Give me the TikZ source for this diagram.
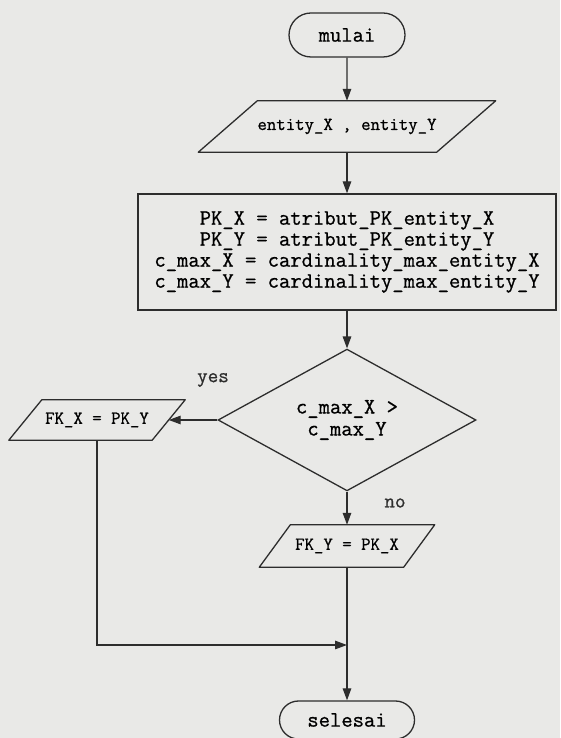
\documentclass[tikz,border=0pt]{standalone}
\usepackage{fontspec}
\setmonofont{Latin Modern Mono}[FakeBold=0.8]
\usepackage{xcolor}
\usetikzlibrary{arrows.meta, shapes.geometric, shapes.misc, positioning}

\definecolor{paper}{RGB}{233,233,231}
\definecolor{ink}{RGB}{45,45,45}

\tikzset{
  flow/.style={draw=ink, line width=1.3pt, -{Triangle[length=12pt,width=8.5pt]}},
  outline/.style={draw=ink, line width=1.3pt, line join=round},
  terminal/.style={rounded rectangle, draw=ink, line width=1.3pt, inner sep=0pt,
    font=\fontsize{22}{24}\selectfont\ttfamily},
  iobox/.style={rectangle, inner sep=0pt, font=\fontsize{18.3}{20}\selectfont\ttfamily},
  procbox/.style={rectangle, draw=ink, line width=1.3pt, inner sep=0pt, align=center,
    font=\fontsize{22}{21}\selectfont\ttfamily},
  decision/.style={diamond, draw=ink, line width=1.3pt, inner sep=0pt, align=center,
    font=\fontsize{22}{22}\selectfont\ttfamily},
  branch/.style={font=\fontsize{20.5}{22}\selectfont\ttfamily, text=ink}
}

\begin{document}
\begin{tikzpicture}[x=1pt, y=1pt]
        \fill[paper] (0,0) rectangle (560,738);
        \useasboundingbox (0,0) rectangle (560,738);
        \node[terminal, minimum width=116pt, minimum height=44pt] (start) at (347,703) {mulai};
        \node[iobox, minimum width=238pt, minimum height=51pt] (input) at (347,611.5) {entity\_X , entity\_Y};
        \node[procbox, minimum width=418pt, minimum height=116pt] (assign) at (347,486)
          {PK\_X = atribut\_PK\_entity\_X\\
           PK\_Y = atribut\_PK\_entity\_Y\\
           c\_max\_X = cardinality\_max\_entity\_X\\
           c\_max\_Y = cardinality\_max\_entity\_Y};
        \node[decision, minimum width=258pt, minimum height=109pt] (cmp) at (347,318)
          {c\_max\_X >\\ c\_max\_Y};
        \node[iobox, minimum width=143pt, minimum height=40pt] (fkx) at (97,318) {FK\_X = PK\_Y};
        \node[iobox, minimum width=144pt, minimum height=42pt] (fky) at (347,192) {FK\_Y = PK\_X};
        \coordinate (merge) at (347,93);
        \node[terminal, minimum width=135pt, minimum height=38pt] (stop) at (347,18) {selesai};
        \node[branch] (yes) at (213,358) {yes};
        \node[branch] (no) at (395,235) {no};
        \draw[outline] ([xshift=29.5pt]input.north west) -- ([xshift=29.5pt]input.north east)
          -- ([xshift=-29.5pt]input.south east) -- ([xshift=-29.5pt]input.south west) -- cycle;
        \draw[outline] ([xshift=16.5pt]fkx.north west) -- ([xshift=16.5pt]fkx.north east)
          -- ([xshift=-16.5pt]fkx.south east) -- ([xshift=-16.5pt]fkx.south west) -- cycle;
        \draw[outline] ([xshift=15.5pt]fky.north west) -- ([xshift=15.5pt]fky.north east)
          -- ([xshift=-15.5pt]fky.south east) -- ([xshift=-15.5pt]fky.south west) -- cycle;
        \draw[flow] (start) -- (input);
        \draw[flow] (input) -- (assign);
        \draw[flow] (assign) -- (cmp);
        \draw[flow] (cmp.west) -- (fkx.east);
        \draw[flow] (cmp.south) -- (fky.north);
        \draw[flow] (fkx.south) |- (merge);
        \draw[flow] (fky.south) -- (stop.north);
    \end{tikzpicture}
\end{document}
